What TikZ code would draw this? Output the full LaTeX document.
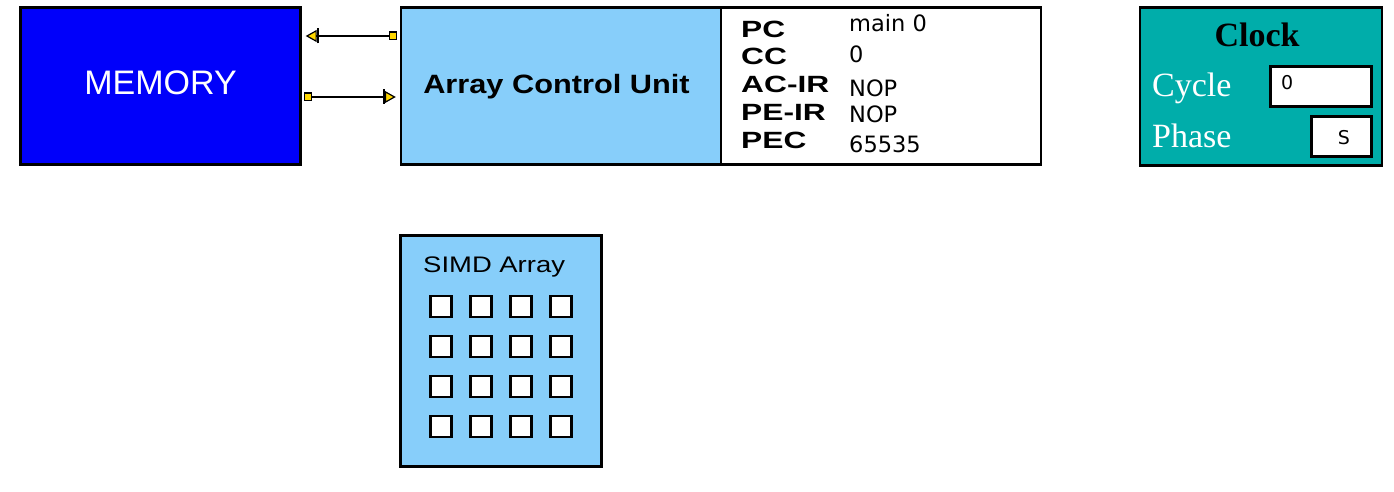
\documentclass[tikz,border=0pt]{standalone}
\usepackage{fontspec}
\usetikzlibrary{arrows.meta}
\newfontfamily\helvfont{Liberation Sans}
\newfontfamily\acufont[FakeStretch=1.16]{Liberation Sans}
\newfontfamily\regfont[FakeStretch=1.35]{Liberation Sans}
\newfontfamily\simdfont[FakeStretch=1.22]{Liberation Sans}
\newfontfamily\valfont{DejaVu Sans}
\newfontfamily\tmsfont{Liberation Serif}
\definecolor{membl}{RGB}{0,0,250}
\definecolor{skyb}{RGB}{135,206,250}
\definecolor{teal2}{RGB}{0,173,170}
\definecolor{pinyel}{RGB}{255,215,0}
\tikzset{
  box/.style={draw=black, line width=2.4pt, inner sep=0pt},
  lbl/.style={inner sep=0pt, anchor=base west},
  reglbl/.style={lbl, font=\regfont\bfseries\fontsize{23.5}{23.5}\selectfont},
  regval/.style={lbl, font=\valfont\fontsize{22.5}{22.5}\selectfont},
  conn/.style={draw=black, line width=1.8pt,
    {Square[fill=pinyel,length=8pt,width=9pt,line width=1.2pt]}-{Bar[width=15pt,line width=2pt]Triangle[fill=pinyel,length=11pt,width=12pt,line width=1.2pt]}},
  pe/.style={box, fill=white, minimum width=21pt, minimum height=21pt, line width=2.2pt}
}
\begin{document}
\begin{tikzpicture}[x=1pt,y=-1pt]
\useasboundingbox (0,0) rectangle (1394,492);
% boxes
\node[box, fill=membl, minimum width=280pt, minimum height=157pt] (mem) at (160.5,86) {};
\node[box, fill=skyb, minimum width=320pt, minimum height=157pt] (acu) at (561,86) {};
\node[box, fill=white, minimum width=320pt, minimum height=157pt] (reg) at (881,86) {};
\node[box, fill=teal2, minimum width=242pt, minimum height=158pt] (clk) at (1261,86.5) {};
\node[box, fill=white, minimum width=101pt, minimum height=40pt] (cyc) at (1321,86.5) {};
\node[box, fill=white, minimum width=60pt, minimum height=40pt] (pha) at (1341.5,136.5) {};
\node[box, fill=skyb, minimum width=201pt, minimum height=231pt] (simd) at (501,351) {};
% texts
\node[inner sep=0pt, anchor=base, text=white, font=\helvfont\fontsize{34}{34}\selectfont] (memt) at (160.5,95) {MEMORY};
\node[inner sep=0pt, anchor=base, font=\acufont\bfseries\fontsize{26.5}{26.5}\selectfont] (acut) at (556.5,94) {Array Control Unit};
\node[reglbl] (l1) at (741,38) {PC};
\node[reglbl] (l2) at (741,65) {CC};
\node[reglbl] (l3) at (741,93) {AC-IR};
\node[reglbl] (l4) at (741,121) {PE-IR};
\node[reglbl] (l5) at (741,149) {PEC};
\node[regval] (v1) at (849,32) {main 0};
\node[regval] (v2) at (849,63) {0};
\node[regval] (v3) at (849,97) {NOP};
\node[regval] (v4) at (849,123) {NOP};
\node[regval] (v5) at (849,153) {65535};
\node[inner sep=0pt, anchor=base, font=\tmsfont\bfseries\fontsize{34}{34}\selectfont] (clkt) at (1257,47) {Clock};
\node[lbl, text=white, font=\tmsfont\fontsize{34}{34}\selectfont] (cyct) at (1152,97) {Cycle};
\node[lbl, text=white, font=\tmsfont\fontsize{34}{34}\selectfont] (phat) at (1152,147) {Phase};
\node[lbl, font=\valfont\fontsize{19}{19}\selectfont] (cycv) at (1281,90) {0};
\node[inner sep=0pt, anchor=base, font=\valfont\fontsize{19}{19}\selectfont] (phav) at (1344,145) {S};
\node[lbl, font=\simdfont\fontsize{22.5}{22.5}\selectfont] (simdt) at (423,272) {SIMD Array};
\foreach \i in {0,1,2,3}{
  \foreach \j in {0,1,2,3}{
    \node[pe] (pe\i\j) at (441+40*\i,306.5+40*\j) {};
  }
}
% connectors
\coordinate (ytop) at (0,36);
\coordinate (ybot) at (0,97);
\draw[conn, shorten <=3pt, shorten >=4pt] (acu.west |- ytop) -- (mem.east |- ytop);
\draw[conn, shorten <=2pt, shorten >=4pt] (mem.east |- ybot) -- (acu.west |- ybot);
\end{tikzpicture}
\end{document}
